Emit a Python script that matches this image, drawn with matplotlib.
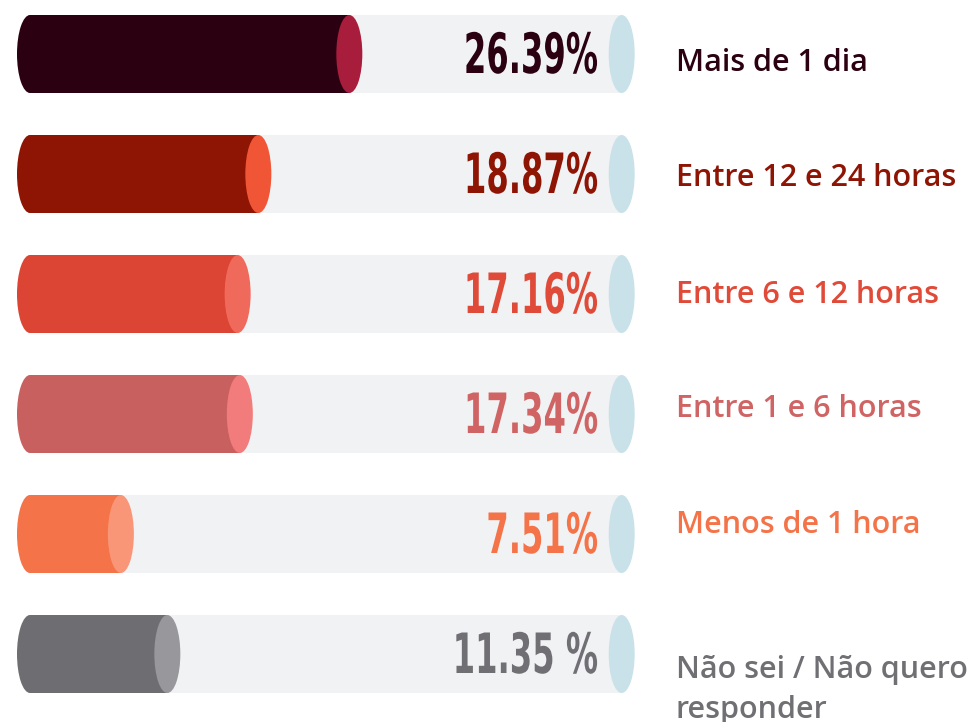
import matplotlib
matplotlib.use("Agg")
import matplotlib.pyplot as plt
from matplotlib.patches import Ellipse, Rectangle
from matplotlib.patheffects import AbstractPathEffect
from matplotlib.transforms import Affine2D

# data, top to bottom
categories = ["Mais de 1 dia", "Entre 12 e 24 horas", "Entre 6 e 12 horas",
              "Entre 1 e 6 horas", "Menos de 1 hora", "Não sei / Não quero\nresponder"]
values = [26.39, 18.87, 17.16, 17.34, 7.51, 11.35]
pct_labels = ["26.39%", "18.87%", "17.16%", "17.34%", "7.51%", "11.35 %"]

body_colors = ["#2b0010", "#8e1404", "#dc4433", "#c96060", "#f47348", "#6e6e72"]
cap_colors = ["#a81c3c", "#f05535", "#f06a5c", "#f27b7b", "#f89677", "#98989c"]
text_colors = ["#2b0010", "#8e1404", "#e04a38", "#d06464", "#f47348", "#707074"]

# layout (pixels of the 969x722 canvas)
TRACK = 48.9       # length of the grey tube, in % units
PX = 12.1          # pixels per % unit
X0 = 30            # pixel where 0 sits
ROW = 120          # pixels between rows
Y0 = 54            # pixel of first row centre
W, H = 969, 722
label_baselines = [71, 186, 303, 417, 533, 678]   # category label baselines, px


class Squash(AbstractPathEffect):
    """Squeeze glyphs horizontally around a fixed x (data coords) -> condensed look."""

    def __init__(self, ax, x, sx):
        super().__init__()
        self.ax, self.x, self.sx = ax, x, sx

    def draw_path(self, renderer, gc, tpath, affine, rgbFace=None):
        xa = self.ax.transData.transform((self.x, 0))[0]
        squash = Affine2D().translate(-xa, 0).scale(self.sx, 1).translate(xa, 0)
        renderer.draw_path(gc, tpath, affine + squash, rgbFace)


def py(p):
    """pixel row -> data y"""
    return (p - Y0) / ROW


fig = plt.figure(figsize=(W / 100, H / 100), dpi=100)
ax = fig.add_axes([0, 0, 1, 1])
ax.set_xlim(-X0 / PX, (W - X0) / PX)
ax.set_ylim(py(H), py(0))
ax.axis("off")

bh = 78 / ROW      # tube height in row units
ew = 26 / PX       # ellipse width in % units

pct_x = (598 - X0) / PX
lab_x = (676 - X0) / PX
pct_font = dict(family="DejaVu Sans", weight="bold", size=40)
cat_font = dict(family=["Open Sans", "DejaVu Sans"], weight="semibold", size=22)

for i, (cat, v, lab) in enumerate(zip(categories, values, pct_labels)):
    # grey track
    ax.add_patch(Rectangle((0, i - bh / 2), TRACK, bh, color="#f1f2f4", lw=0, zorder=1))
    ax.add_patch(Ellipse((TRACK, i), ew, bh, color="#c9e2ea", lw=0, zorder=2))
    # filled tube
    ax.add_patch(Ellipse((0, i), ew, bh, color=body_colors[i], lw=0, zorder=3))
    ax.add_patch(Rectangle((0, i - bh / 2), v, bh, color=body_colors[i], lw=0, zorder=3))
    ax.add_patch(Ellipse((v, i), ew, bh, color=cap_colors[i], lw=0, zorder=4))

    ax.text(pct_x, i + 19 / ROW, lab, ha="right", va="baseline", color=text_colors[i],
            zorder=5, path_effects=[Squash(ax, pct_x, 0.58)], **pct_font)
    first = cat.split("\n")[0]
    ax.text(lab_x, py(label_baselines[i]), first, ha="left", va="baseline",
            color=text_colors[i], **cat_font)
    if "\n" in cat:
        ax.text(lab_x, py(label_baselines[i] + 40), cat.split("\n")[1], ha="left",
                va="baseline", color=text_colors[i], **cat_font)

fig.savefig("out.png", dpi=100, facecolor="white")
